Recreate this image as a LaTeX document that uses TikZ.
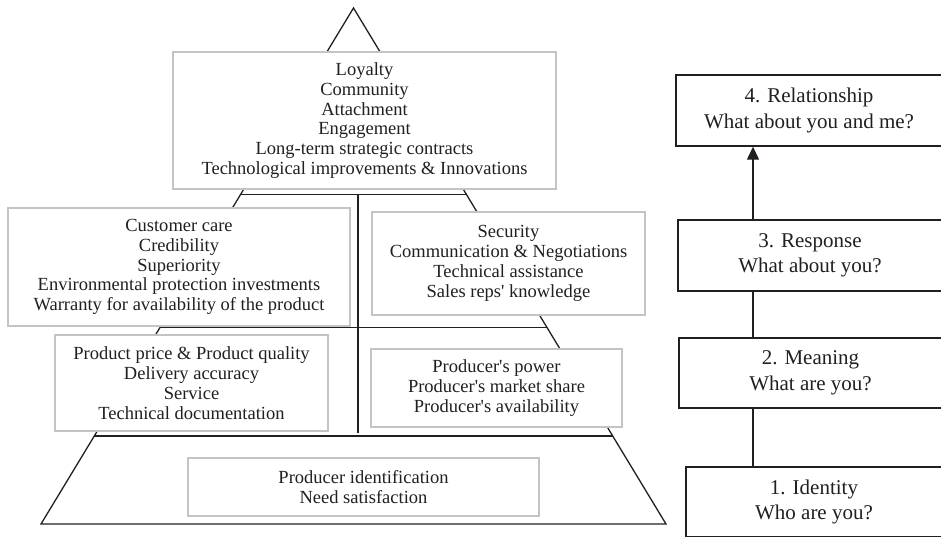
\documentclass[tikz,border=0pt]{standalone}
\usepackage{fontspec}
\setmainfont{Liberation Serif}[Ligatures=TeXOff]
\usetikzlibrary{arrows.meta,calc}
\definecolor{boxgray}{HTML}{C4C4C4}
\definecolor{txt}{HTML}{231F20}
\begin{document}
\begin{tikzpicture}[x=1pt,y=-1pt,
  gbox/.style={draw=boxgray, line width=1.1pt, fill=white, inner sep=0pt, align=center,
    font=\fontsize{18.5}{19.8}\selectfont, text=txt},
  bbox/.style={draw=txt, line width=1.4pt, fill=white, inner sep=0pt, align=center,
    font=\fontsize{21}{25.5}\selectfont, text=txt},
  pyr/.style={draw=txt, line width=1.3pt},
  conn/.style={draw=txt, line width=1.4pt},
]
\useasboundingbox (0,0) rectangle (941,536);
\begin{scope}
\clip (0,0) rectangle (941,536);
% pyramid outline
\coordinate (apex) at (353.5,8);
\coordinate (bl) at (41,524);
\coordinate (br) at (666,524);
\draw[pyr, line join=miter] (apex) -- (bl) -- (br) -- cycle;

% boxes on the pyramid
\node[gbox, minimum width=383pt, minimum height=137pt] (top) at (364.5,120.5)
  {Loyalty\\Community\\Attachment\\Engagement\\Long-term strategic contracts\\Technological improvements \& Innovations};
\node[gbox, minimum width=342pt, minimum height=118pt] (l2l) at (179,267)
  {Customer care\\Credibility\\Superiority\\Environmental protection investments\\Warranty for availability of the product};
\node[gbox, minimum width=273pt, minimum height=103pt] (l2r) at (508.5,263.5)
  {Security\\Communication \& Negotiations\\Technical assistance\\Sales reps' knowledge};
\node[gbox, minimum width=273pt, minimum height=96pt] (l3l) at (191.5,383)
  {Product price \& Product quality\\Delivery accuracy\\Service\\Technical documentation};
\node[gbox, minimum width=251pt, minimum height=78pt] (l3r) at (496.5,388)
  {Producer's power\\Producer's market share\\Producer's availability};
\node[gbox, minimum width=351pt, minimum height=58pt] (l4) at (363.5,487)
  {Producer identification\\Need satisfaction};

% level lines
\coordinate (h1l) at ($(apex)!0.3614!(bl)$);
\coordinate (h1r) at ($(apex)!0.3614!(br)$);
\coordinate (h2l) at ($(apex)!0.6192!(bl)$);
\coordinate (h2r) at ($(apex)!0.6192!(br)$);
\coordinate (h3l) at ($(apex)!0.8295!(bl)$);
\coordinate (h3r) at ($(apex)!0.8295!(br)$);
\coordinate (vt) at (358,194.5);
\coordinate (vb) at (358,432.5);
\draw[pyr] (h1l) -- (h1r);
\draw[pyr] (h2l) -- (h2r);
\draw[pyr] (h3l) -- (h3r);
\draw[pyr] (vt) -- (vb);

% right-hand ladder
\node[bbox, minimum width=266pt, minimum height=71pt] (b4) at (809,110.5)
  {4. Relationship\\What about you and me?};
\node[bbox, minimum width=264pt, minimum height=71pt] (b3) at (810,255.5)
  {3. Response\\What about you?};
\node[bbox, minimum width=263pt, minimum height=70pt] (b2) at (810.5,373)
  {2. Meaning\\What are you?};
\node[bbox, minimum width=256pt, minimum height=70pt] (b1) at (814,502)
  {1. Identity\\Who are you?};
\coordinate (ax) at (753,0);
\draw[conn, -{Triangle[length=13pt,width=12pt]}] (b3.north -| ax) -- (b4.south -| ax);
\draw[conn] (b2.north -| ax) -- (b3.south -| ax);
\draw[conn] (b1.north -| ax) -- (b2.south -| ax);
\end{scope}
\end{tikzpicture}
\end{document}
